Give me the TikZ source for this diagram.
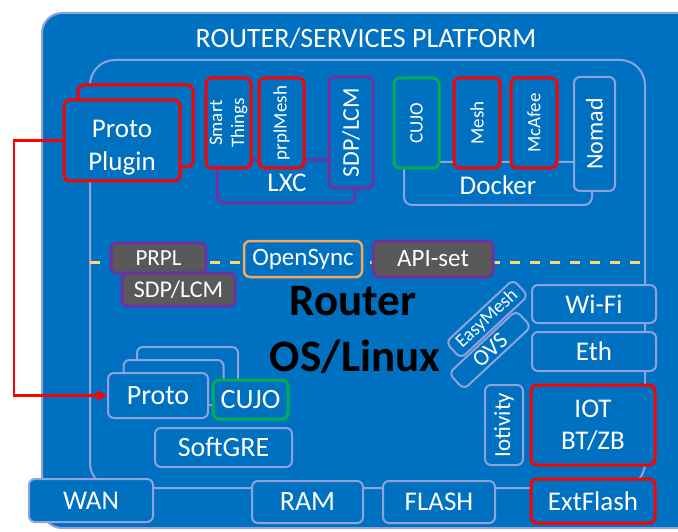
\documentclass[tikz,border=0pt]{standalone}
\usepackage{fontspec}
\setmainfont{Carlito}
\usetikzlibrary{arrows.meta}
\definecolor{plblue}{HTML}{0070C0}
\definecolor{pledge}{HTML}{8FA2DC}
\definecolor{plred}{HTML}{FF0000}
\definecolor{plgreen}{HTML}{00B050}
\definecolor{plpurple}{HTML}{7030A0}
\definecolor{plorange}{HTML}{F8A65A}
\definecolor{plgray}{HTML}{595959}
\definecolor{plyellow}{HTML}{FFD966}

\tikzset{
  box/.style={draw=pledge, line width=2pt, rounded corners=6pt, fill=plblue,
    text=white, inner sep=0pt, font=\fontsize{27}{32}\selectfont},
  redbox/.style={box, draw=plred, line width=3pt},
  greenbox/.style={box, draw=plgreen, line width=3pt},
  purplebox/.style={box, draw=plpurple, line width=3pt},
  orangebox/.style={box, draw=plorange, line width=2.5pt},
  graybox/.style={purplebox, fill=plgray},
  fsmall/.style={font=\fontsize{19}{22}\selectfont},
  fmid/.style={font=\fontsize{24}{28}\selectfont},
  grouptext/.style={text=white, inner sep=0pt, font=\fontsize{27}{32}\selectfont},
  bigtext/.style={text=black, inner sep=0pt, anchor=base, font=\bfseries\fontsize{45}{50}\selectfont},
}

\begin{document}
\begin{tikzpicture}[x=1pt, y=-1pt]
  \useasboundingbox (0,0) rectangle (678,532);

  % Platform box
  \draw[line width=2pt, draw=pledge, fill=plblue, rounded corners=20pt] (42,13) rectangle (700,528);
  \node[grouptext, font=\fontsize{28}{32}\selectfont] (title) at (366,38) {ROUTER/SERVICES PLATFORM};

  % OS box
  \draw[line width=2pt, draw=pledge, rounded corners=25pt] (90,60) rectangle (645,488);

  % Proto plugin stack
  \node[redbox, minimum width=115pt, minimum height=82pt] (plugback) at (135.5,126) {};
  \node[redbox, minimum width=116pt, minimum height=81pt] (plugin) at (122,140.5) {};
  \node[grouptext, anchor=north, align=center, font=\fontsize{27}{33}\selectfont] (plugintext) at (122,120) {Proto\\Plugin};

  % LXC containers
  \draw[line width=3pt, draw=plpurple, rounded corners=8pt] (217,160) rectangle (355,203);
  \node[grouptext] (lxc) at (287,183) {LXC};
  \node[redbox, fsmall, rotate=90, minimum width=90pt, minimum height=45pt, align=center] (things) at (228.5,123) {Smart\\Things};
  \node[redbox, fsmall, rotate=90, minimum width=90pt, minimum height=45pt] (prplmesh) at (281.5,123) {prplMesh};
  \node[purplebox, fmid, rotate=90, minimum width=111pt, minimum height=44pt] (sdptop) at (351,132.5) {SDP/LCM};

  % Docker containers
  \draw[line width=2pt, draw=pledge, rounded corners=8pt] (404,162) rectangle (592,205);
  \node[grouptext] (docker) at (498,185) {Docker};
  \node[greenbox, fsmall, rotate=90, minimum width=90pt, minimum height=45pt] (cujotop) at (416.5,123) {CUJO};
  \node[redbox, fsmall, rotate=90, minimum width=90pt, minimum height=46pt] (mesh) at (477,123) {Mesh};
  \node[redbox, fsmall, rotate=90, minimum width=90pt, minimum height=46pt] (mcafee) at (534,123) {McAfee};
  \node[box, fmid, rotate=90, minimum width=114pt, minimum height=41pt] (nomad) at (594.5,134) {Nomad};

  % Middleware line
  \draw[line width=3pt, draw=plyellow, dash pattern=on 10pt off 10pt] (90,262) -- (645,262);
  \node[graybox, font=\fontsize{23}{27}\selectfont, minimum width=95pt, minimum height=30pt] (prpl) at (158.5,258) {PRPL};
  \node[graybox, fmid, minimum width=113pt, minimum height=33pt] (sdplow) at (178.5,289.5) {SDP/LCM};
  \node[orangebox, font=\fontsize{25}{29}\selectfont, minimum width=118pt, minimum height=36pt] (opensync) at (303,259) {OpenSync};
  \node[graybox, font=\fontsize{25}{29}\selectfont, minimum width=120pt, minimum height=36pt] (apiset) at (433,259) {API-set};

  % Router OS
  \node[bigtext] (router) at (353,315) {Router};
  \node[bigtext] (oslinux) at (355,371) {OS/Linux};

  % Networking
  \node[box, font=\fontsize{23}{27}\selectfont, rotate=43, minimum width=92pt, minimum height=22pt] (ovs) at (490,350) {OVS};
  \node[box, fsmall, rotate=43, minimum width=92pt, minimum height=22pt] (easymesh) at (487,319) {EasyMesh};
  \node[box, minimum width=124pt, minimum height=38pt] (wifi) at (594,304) {Wi-Fi};
  \node[box, minimum width=124pt, minimum height=39pt] (eth) at (594,351.5) {Eth};
  \node[box, font=\fontsize{23}{27}\selectfont, rotate=90, minimum width=80pt, minimum height=38pt] (iotivity) at (504,425) {Iotivity};
  \node[redbox, minimum width=124pt, minimum height=80pt, align=center] (iot) at (593,425) {IOT\\BT/ZB};

  % Proto stack
  \node[box, minimum width=101pt, minimum height=45pt] (protoback2) at (187.5,369.5) {};
  \node[box, minimum width=100pt, minimum height=45pt] (protoback1) at (173.5,382.5) {};
  \node[box, font=\fontsize{28}{32}\selectfont, minimum width=100pt, minimum height=45pt] (proto) at (158,395.5) {Proto};
  \node[greenbox, font=\fontsize{28}{32}\selectfont, minimum width=75pt, minimum height=39pt] (cujolow) at (250.5,399.5) {CUJO};
  \node[box, font=\fontsize{28}{32}\selectfont, minimum width=137pt, minimum height=39pt] (softgre) at (223.5,447.5) {SoftGRE};

  % Hardware
  \node[box, minimum width=124pt, minimum height=43pt] (wan) at (91,500.5) {WAN};
  \node[box, font=\fontsize{28}{32}\selectfont, minimum width=111pt, minimum height=42pt] (ram) at (307.5,502) {RAM};
  \node[box, minimum width=112pt, minimum height=42pt] (flash) at (439,502) {FLASH};
  \node[redbox, minimum width=124pt, minimum height=44pt] (extflash) at (593,501) {ExtFlash};

  % Plugin to proto
  \coordinate (bend) at (14,395.5);
  \draw[plred, line width=2.5pt, -{Triangle[length=10pt, width=10pt]}] (plugin.west) -| (bend) -- (proto.west);
\end{tikzpicture}
\end{document}
